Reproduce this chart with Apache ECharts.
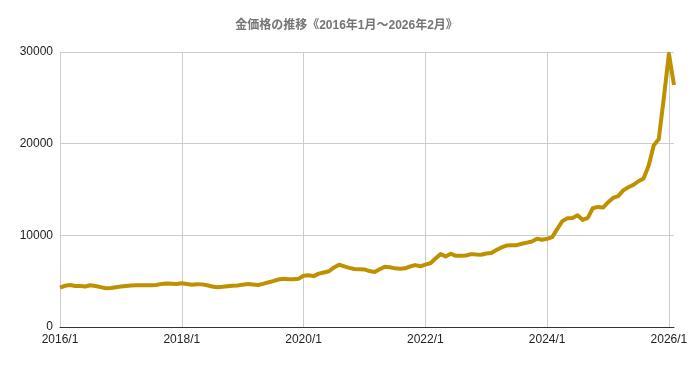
<!DOCTYPE html>
<html>
<head>
<meta charset="utf-8">
<script src="https://cdn.jsdelivr.net/npm/echarts@6/dist/echarts.min.js"></script>
<style>
html,body{margin:0;padding:0;background:#fff;}
#chart{width:693px;height:366px;}
</style>
</head>
<body>
<div id="chart"></div>
<script>
const titleText = '金価格の推移《2016年1月～2026年2月》';
const startYear = 2016;
const months = [];
for (let y = 2016; y <= 2026; y++) {
  for (let m = 1; m <= 12; m++) {
    if (y === 2026 && m > 2) break;
    months.push(y + '/' + m);
  }
}
const yTicks = [0, 10000, 20000, 30000];
const prices = [
  4300, 4500, 4580, 4480, 4470, 4420, 4550, 4480, 4350, 4230, 4250, 4330,
  4420, 4480, 4520, 4550, 4560, 4560, 4560, 4580, 4700, 4750, 4720, 4700,
  4780, 4700, 4610, 4660, 4650, 4560, 4420, 4330, 4380, 4450, 4500, 4530,
  4620, 4680, 4640, 4580, 4700, 4860, 5000, 5180, 5260, 5220, 5200, 5260,
  5580, 5650, 5550, 5820, 5950, 6080, 6500, 6800, 6620, 6450, 6330, 6300,
  6280, 6100, 6000, 6300, 6580, 6520, 6400, 6350, 6400, 6600, 6750, 6620,
  6800, 6950, 7480, 7950, 7700, 8000, 7760, 7780, 7800, 7950, 7900, 7880,
  8020, 8080, 8400, 8680, 8880, 8920, 8930, 9080, 9200, 9320, 9620, 9520,
  9620, 9800, 10700, 11550, 11870, 11900, 12200, 11680, 11900, 12950, 13100, 13030,
  13600, 14080, 14280, 14900, 15250, 15500, 15900, 16200, 17600, 19800, 20500, 25000,
  29800, 26400
];

const isTick = (idx) => {
  const parts = months[idx].split('/');
  return parts[1] === '1' && (parseInt(parts[0]) - startYear) % 2 === 0;
};

const chart = echarts.init(document.getElementById('chart'));
chart.setOption({
  animation: false,
  backgroundColor: '#fff',
  title: {
    text: titleText,
    left: 'center',
    top: 15,
    textStyle: { fontFamily: 'Liberation Sans, Arial, Noto Sans CJK JP', fontSize: 12, fontWeight: 'bold', color: '#757575' }
  },
  grid: { left: 60, right: 19, top: 52, bottom: 39, containLabel: false },
  xAxis: {
    type: 'category',
    data: months,
    boundaryGap: false,
    axisLine: { lineStyle: { color: '#333', width: 1 } },
    axisTick: { show: false },
    axisLabel: {
      interval: (idx) => isTick(idx),
      color: '#222',
      fontSize: 12,
      fontFamily: 'Liberation Sans, Arial',
      margin: 7
    },
    splitLine: {
      show: true,
      interval: (idx) => isTick(idx),
      lineStyle: { color: '#cccccc', width: 1 }
    }
  },
  yAxis: {
    type: 'value',
    min: yTicks[0],
    max: yTicks[yTicks.length - 1],
    interval: 10000,
    axisLine: { show: false },
    axisTick: { show: false },
    axisLabel: { color: '#222', fontSize: 12, fontFamily: 'Liberation Sans, Arial', margin: 7, formatter: (v) => String(v) },
    splitLine: { lineStyle: { color: '#cccccc', width: 1 } }
  },
  series: [{
    type: 'line',
    data: prices,
    symbol: 'none',
    smooth: false,
    lineStyle: { color: '#bf9000', width: 4, join: 'round' },
    itemStyle: { color: '#bf9000' }
  }]
});
</script>
</body>
</html>
